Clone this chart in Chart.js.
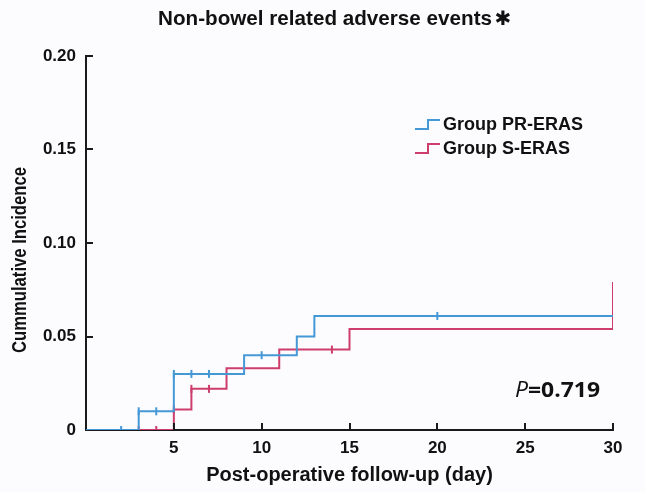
<!DOCTYPE html>
<html>
<head>
  <meta charset="UTF-8">
  <title>Non-bowel related adverse events</title>
  <script src="https://cdn.jsdelivr.net/npm/chart.js"></script>
  <style>
    body { margin: 0; background: #fcfcfe; }
    #wrap { width: 645px; height: 492px; }
  </style>
</head>
<body>
  <div id="wrap"><canvas id="kmChart" width="645" height="492"></canvas></div>
  <script>
    // step curves: day -> cumulative incidence reached at that day
    var prDays = [0, 3, 5, 9, 12, 13, 30];
    var prValues = [0, 0.010, 0.030, 0.040, 0.050, 0.061, 0.061];
    var sDays = [0, 5, 6, 8, 11, 15, 30, 30];
    var sValues = [0, 0.011, 0.022, 0.033, 0.043, 0.054, 0.054, 0.077];

    // censor marks
    var prCensorDays = [2, 3, 4, 5, 6, 7, 10, 20, 30];
    var prCensorValues = [0, 0.010, 0.010, 0.030, 0.030, 0.030, 0.040, 0.061, 0.061];
    var sCensorDays = [3, 4, 5, 6, 7, 14, 30];
    var sCensorValues = [0, 0, 0.011, 0.022, 0.022, 0.043, 0.077];

    var seriesNames = ['Group PR-ERAS', 'Group S-ERAS'];
    var xTickLabels = ['', '5', '10', '15', '20', '25', '30'];
    var yTickLabels = ['0', '0.05', '0.10', '0.15', '0.20'];
    var pValueText = '0.719';

    var blue = '#4598d6';
    var red = '#cd3e6c';

    function toPoints(xs, ys) {
      return xs.map(function(x, i) { return { x: x, y: ys[i] }; });
    }

    var boldFont = '"Liberation Sans", Arial, sans-serif';

    // inward ticks, custom legend, titles and p-value
    var decorations = {
      id: 'decorations',
      afterDraw: function(chart) {
        var ctx = chart.ctx;
        var xs = chart.scales.x, ys = chart.scales.y;
        var area = chart.chartArea;
        ctx.save();
        ctx.strokeStyle = '#1a1a1a';
        ctx.lineWidth = 2;
        ctx.beginPath();
        for (var i = 1; i < xTickLabels.length; i++) {
          var px = Math.round(xs.getPixelForValue(i * 5));
          ctx.moveTo(px, area.bottom);
          ctx.lineTo(px, area.bottom - 7);
        }
        for (var j = 1; j < yTickLabels.length; j++) {
          var py = Math.round(ys.getPixelForValue(j * 0.05));
          ctx.moveTo(area.left, py);
          ctx.lineTo(area.left + 7, py);
        }
        ctx.stroke();

        // title
        ctx.fillStyle = '#111';
        ctx.font = 'bold 21px ' + boldFont;
        ctx.textAlign = 'left';
        ctx.textBaseline = 'middle';
        var title = 'Non-bowel related adverse events';
        var tw = ctx.measureText(title).width;
        ctx.save();
        ctx.translate(158, 19);
        ctx.scale(334 / tw, 1);
        ctx.fillText(title, 0, 0);
        ctx.restore();
        ctx.font = 'bold 20px "DejaVu Sans", sans-serif';
        ctx.textAlign = 'center';
        ctx.fillText('\u2731', 503, 20);

        // y axis title, condensed like the original
        var yTitle = 'Cummulative Incidence';
        ctx.save();
        ctx.font = 'bold 20px ' + boldFont;
        var yw = ctx.measureText(yTitle).width;
        ctx.translate(20, 260);
        ctx.rotate(-Math.PI / 2);
        ctx.scale(186 / yw, 1);
        ctx.fillText(yTitle, 0, 0);
        ctx.restore();

        // legend
        var colors = [blue, red];
        ctx.font = 'bold 18px ' + boldFont;
        ctx.textAlign = 'left';
        for (var k = 0; k < seriesNames.length; k++) {
          var ly = 125 + k * 24;
          ctx.strokeStyle = colors[k];
          ctx.lineWidth = 2;
          ctx.beginPath();
          ctx.moveTo(415, ly + 4);
          ctx.lineTo(428, ly + 4);
          ctx.lineTo(428, ly - 5);
          ctx.lineTo(440, ly - 5);
          ctx.stroke();
          ctx.fillStyle = '#111';
          ctx.fillText(seriesNames[k], 443, ly);
        }

        // p value, fitted to the width of the original
        ctx.font = 'italic 21px "Open Sans", "Liberation Sans", sans-serif';
        var pw = ctx.measureText('P').width;
        ctx.font = 'bold 21px "Open Sans", "Liberation Sans", sans-serif';
        var vw = ctx.measureText('=' + pValueText).width;
        ctx.save();
        ctx.translate(515, 391);
        ctx.scale(85 / (pw + vw), 1);
        ctx.font = 'italic 21px "Open Sans", "Liberation Sans", sans-serif';
        ctx.fillText('P', 0, 0);
        ctx.font = 'bold 21px "Open Sans", "Liberation Sans", sans-serif';
        ctx.fillText('=' + pValueText, pw, 0);
        ctx.restore();
        ctx.restore();
      }
    };

    new Chart(document.getElementById('kmChart').getContext('2d'), {
      type: 'scatter',
      data: {
        datasets: [
          {
            label: seriesNames[0],
            data: toPoints(prDays, prValues),
            showLine: true,
            stepped: 'before',
            borderColor: blue,
            borderWidth: 2,
            pointRadius: 0,
            fill: false
          },
          {
            label: seriesNames[1],
            data: toPoints(sDays, sValues),
            showLine: true,
            stepped: 'before',
            borderColor: red,
            borderWidth: 2,
            pointRadius: 0,
            fill: false
          },
          {
            label: 'censor PR',
            data: toPoints(prCensorDays, prCensorValues),
            pointStyle: 'line',
            rotation: 90,
            pointRadius: 4,
            borderColor: blue,
            borderWidth: 2,
            backgroundColor: blue
          },
          {
            label: 'censor S',
            data: toPoints(sCensorDays, sCensorValues),
            pointStyle: 'line',
            rotation: 90,
            pointRadius: 4,
            borderColor: red,
            borderWidth: 2,
            backgroundColor: red
          }
        ]
      },
      options: {
        responsive: false,
        animation: false,
        layout: { padding: { top: 56, right: 32, left: 0, bottom: 0 } },
        plugins: {
          legend: { display: false },
          tooltip: { enabled: false }
        },
        scales: {
          x: {
            type: 'linear',
            min: 0,
            max: 30,
            afterFit: function(scale) { scale.height = 62; },
            grid: { display: false, drawTicks: false },
            border: { display: true, color: '#1a1a1a', width: 2 },
            ticks: {
              stepSize: 5,
              padding: 8,
              color: '#111',
              font: { family: boldFont, size: 17, weight: 'bold' },
              callback: function(v) { return xTickLabels[Math.round(v / 5)]; }
            },
            title: {
              display: true,
              text: 'Post-operative follow-up (day)',
              color: '#111',
              font: { family: boldFont, size: 20, weight: 'bold' },
              padding: { top: 0, bottom: 5 }
            }
          },
          y: {
            min: 0,
            max: 0.2,
            afterFit: function(scale) { scale.width = 86; },
            grid: { display: false, drawTicks: false },
            border: { display: true, color: '#1a1a1a', width: 2 },
            ticks: {
              stepSize: 0.05,
              padding: 10,
              color: '#111',
              font: { family: boldFont, size: 17, weight: 'bold' },
              callback: function(v) { return yTickLabels[Math.round(v / 0.05)]; }
            },
            title: { display: false }
          }
        }
      },
      plugins: [decorations]
    });
  </script>
</body>
</html>
